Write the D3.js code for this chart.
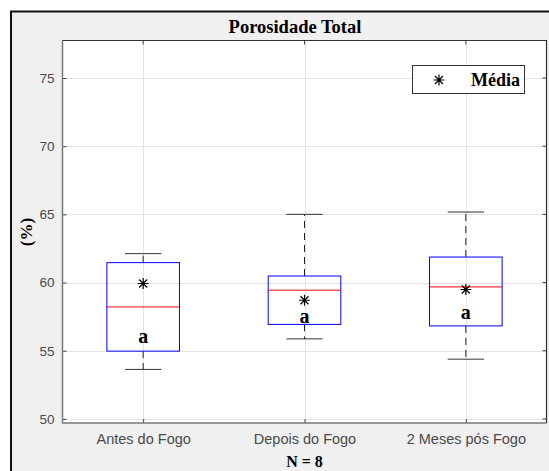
<!DOCTYPE html>
<html><head><meta charset="utf-8">
<script src="https://cdn.jsdelivr.net/npm/d3@7/dist/d3.min.js"></script>
<style>body{margin:0;background:#fff}svg{display:block}</style>
</head><body><svg id="c" width="549" height="471"></svg>
<script>
const categories = ["Antes do Fogo", "Depois do Fogo", "2 Meses pós Fogo"];
const whiskerLow  = [53.63, 55.87, 54.38];
const q1          = [54.97, 56.93, 56.82];
const median      = [58.21, 59.44, 59.68];
const q3          = [61.46, 60.48, 61.87];
const whiskerHigh = [62.12, 65.00, 65.17];
const mean        = [59.93, 58.70, 59.49];
const groupLetters = ["a", "a", "a"];
const letterPos   = [56.05, 57.55, 57.8];
const yTicks = [50, 55, 60, 65, 70, 75];

const svg = d3.select("#c");
const L = 62.5, R = 546.5, T = 40.5, B = 423;
const x = d3.scaleLinear().domain([0.5, 3.5]).range([L, R]);
const y = d3.scaleLinear().domain([49.7, 77.75]).range([B, T]);

// figure background and frame
svg.append("rect").attr("x", 11).attr("y", 11.5).attr("width", 549).attr("height", 471).attr("fill", "#f0f0f0");
svg.append("path").attr("d", `M11,471V11.5H549`).attr("fill", "none").attr("stroke", "#111").attr("stroke-width", 2);

// plot area
svg.append("rect").attr("x", L).attr("y", T).attr("width", R - L).attr("height", B - T).attr("fill", "#fff");

// grid
const g = svg.append("g");
g.selectAll(".gy").data(yTicks).join("line")
  .attr("x1", L).attr("x2", R).attr("y1", d => Math.round(y(d)) + 0.5).attr("y2", d => Math.round(y(d)) + 0.5)
  .attr("stroke", "#e3e3e3").attr("stroke-width", 1);
g.selectAll(".gx").data(categories).join("line")
  .attr("x1", (d, i) => Math.round(x(i + 1)) + 0.5).attr("x2", (d, i) => Math.round(x(i + 1)) + 0.5)
  .attr("y1", T).attr("y2", B).attr("stroke", "#e3e3e3").attr("stroke-width", 1);

// axes via d3 axis
const yAxis = d3.axisLeft(y).tickValues(yTicks).tickSizeInner(-4).tickSizeOuter(0).tickPadding(8);
const ya = svg.append("g").attr("transform", `translate(${L},0)`).call(yAxis);
ya.select(".domain").remove();
ya.selectAll(".tick line").attr("stroke", "#444");
ya.selectAll("text").attr("font-family", "Liberation Sans, Arial, sans-serif").attr("font-size", 13.5).attr("fill", "#4a4a4a");

const xAxis = d3.axisBottom(x).tickValues([1, 2, 3]).tickFormat((d) => categories[d - 1]).tickSizeInner(-4).tickSizeOuter(0).tickPadding(11);
const xa = svg.append("g").attr("transform", `translate(0,${B})`).call(xAxis);
xa.select(".domain").remove();
xa.selectAll(".tick line").attr("stroke", "#444");
xa.selectAll("text").attr("font-family", "Liberation Sans, Arial, sans-serif").attr("font-size", 14.5).attr("fill", "#4a4a4a");

// top / right ticks
svg.append("g").selectAll("line").data([1, 2, 3]).join("line")
  .attr("x1", d => x(d)).attr("x2", d => x(d)).attr("y1", T).attr("y2", T + 4).attr("stroke", "#444");
svg.append("g").selectAll("line").data(yTicks).join("line")
  .attr("x1", R).attr("x2", R - 4).attr("y1", d => y(d)).attr("y2", d => y(d)).attr("stroke", "#444");

// axes box
svg.append("path").attr("d", `M${L},${T}V${B}H${R}`).attr("fill", "none").attr("stroke", "#7a7a7a").attr("stroke-width", 1.5);
svg.append("path").attr("d", `M${L},${T}H${R}V${B}`).attr("fill", "none").attr("stroke", "#333").attr("stroke-width", 1.2);

// boxes
const bw = 0.45, cw = 0.225;
const bg = svg.append("g");
const star = "M0,-5.5V5.5M-5.5,0H5.5M-4,-4L4,4M-4,4L4,-4";
categories.forEach((c, i) => {
  const cx = x(i + 1);
  const hb = (x(1 + bw / 2) - x(1));
  const hc = (x(1 + cw / 2) - x(1));
  bg.append("line").attr("x1", cx).attr("x2", cx).attr("y1", y(q3[i])).attr("y2", y(whiskerHigh[i]))
    .attr("stroke", "#222").attr("stroke-dasharray", "7,5");
  bg.append("line").attr("x1", cx).attr("x2", cx).attr("y1", y(q1[i])).attr("y2", y(whiskerLow[i]))
    .attr("stroke", "#222").attr("stroke-dasharray", "7,5");
  bg.append("line").attr("x1", cx - hc).attr("x2", cx + hc).attr("y1", y(whiskerHigh[i])).attr("y2", y(whiskerHigh[i])).attr("stroke", "#333");
  bg.append("line").attr("x1", cx - hc).attr("x2", cx + hc).attr("y1", y(whiskerLow[i])).attr("y2", y(whiskerLow[i])).attr("stroke", "#333");
  bg.append("rect").attr("x", cx - hb).attr("width", 2 * hb).attr("y", y(q3[i])).attr("height", y(q1[i]) - y(q3[i]))
    .attr("fill", "none").attr("stroke", "#0000ff").attr("stroke-width", 1);
  bg.append("line").attr("x1", cx - hb).attr("x2", cx + hb).attr("y1", y(median[i])).attr("y2", y(median[i]))
    .attr("stroke", "#ff0000").attr("stroke-width", 1);
  bg.append("path").attr("transform", `translate(${cx},${y(mean[i])})`)
    .attr("d", star).attr("stroke", "#000").attr("stroke-width", 1.2);
  bg.append("text").attr("x", cx).attr("y", y(letterPos[i])).attr("dy", "0.33em").attr("text-anchor", "middle")
    .attr("font-family", "Liberation Serif, Times New Roman, serif").attr("font-weight", "bold").attr("font-size", 20)
    .attr("fill", "#000").text(groupLetters[i]);
});

// legend
svg.append("rect").attr("x", 412.5).attr("y", 65.5).attr("width", 112).attr("height", 28).attr("fill", "#fff").attr("stroke", "#333");
svg.append("path").attr("transform", "translate(439,80)").attr("d", star).attr("stroke", "#000").attr("stroke-width", 1.2);
svg.append("text").attr("x", 520).attr("y", 86).attr("text-anchor", "end")
  .attr("font-family", "Liberation Serif, Times New Roman, serif").attr("font-weight", "bold").attr("font-size", 18).text("Média");

// title & labels
svg.append("text").attr("x", 295).attr("y", 33).attr("text-anchor", "middle")
  .attr("font-family", "Liberation Serif, Times New Roman, serif").attr("font-weight", "bold").attr("font-size", 18.5).text("Porosidade Total");
svg.append("text").attr("x", 304.5).attr("y", 467).attr("text-anchor", "middle")
  .attr("font-family", "Liberation Serif, Times New Roman, serif").attr("font-weight", "bold").attr("font-size", 16).text("N = 8");
svg.append("text").attr("transform", "translate(32,232) rotate(-90)").attr("text-anchor", "middle")
  .attr("font-family", "Liberation Serif, Times New Roman, serif").attr("font-weight", "bold").attr("font-size", 17).text("(%)");
</script></body></html>
